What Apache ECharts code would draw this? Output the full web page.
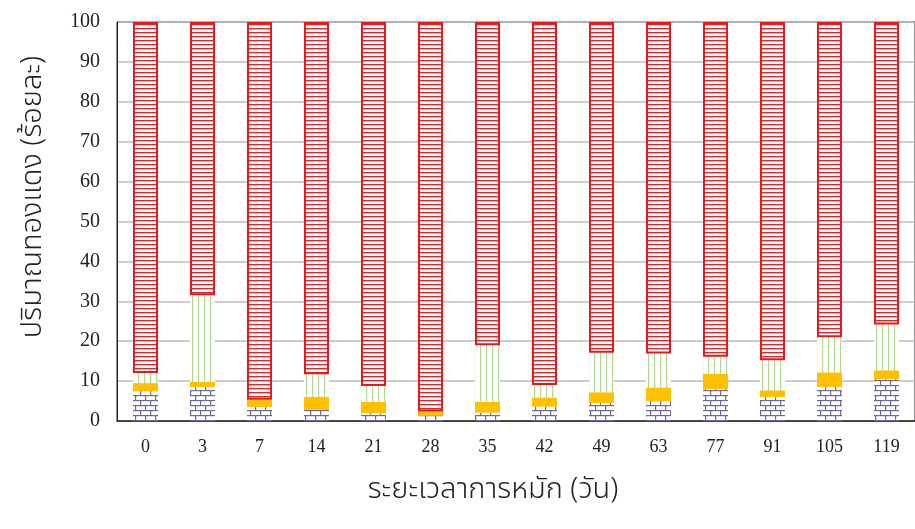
<!DOCTYPE html>
<html>
<head>
<meta charset="utf-8">
<script src="https://cdn.jsdelivr.net/npm/echarts@6/dist/echarts.min.js"></script>
<style>
html,body{margin:0;padding:0;background:#fff;}
#chart{width:915px;height:529px;}
</style>
</head>
<body>
<div id="chart"></div>
<script>
const categories = ['0','3','7','14','21','28','35','42','49','63','77','91','105','119'];
const brickValues  = [7.5, 8.5, 3.5, 2.8, 1.9, 1.4, 2.1, 3.6, 4.5, 5.0, 8.0, 6.0, 8.5, 10.5];
const yellowValues = [2.0, 1.3, 1.8, 3.3, 2.9, 1.0, 2.7, 2.3, 2.7, 3.4, 3.8, 1.7, 3.7, 2.2];
const greenValues  = [2.5, 21.7, 0, 5.6, 4.0, 0, 14.2, 3.1, 9.9, 8.5, 4.3, 7.5, 8.8, 11.5];
const redValues    = [88.0, 68.5, 94.7, 88.3, 91.2, 97.6, 81.0, 91.0, 82.9, 83.1, 83.9, 84.8, 79.0, 75.8];
const yTickLabels = ['0','10','20','30','40','50','60','70','80','90','100'];
const xTitle = 'ระยะเวลาการหมัก (วัน)';
const yTitle = 'ปริมาณทองแดง (ร้อยละ)';

function makePattern(w, h, draw) {
  const c = document.createElement('canvas');
  c.width = w; c.height = h;
  const ctx = c.getContext('2d');
  ctx.fillStyle = '#ffffff';
  ctx.fillRect(0, 0, w, h);
  draw(ctx);
  return { image: c, repeat: 'repeat' };
}
const redPattern = makePattern(8, 4, ctx => {
  ctx.fillStyle = '#d92b2f';
  ctx.fillRect(0, 0, 8, 1.4);
});
const greenPattern = makePattern(6, 4, ctx => {
  ctx.fillStyle = '#b3d794';
  ctx.fillRect(0, 0, 1.2, 4);
});
const brickPattern = makePattern(20, 10, ctx => {
  ctx.fillStyle = '#6a6a9c';
  ctx.fillRect(0, 0, 20, 1.2);
  ctx.fillRect(0, 5, 20, 1.2);
  ctx.fillRect(0, 0, 1.2, 5);
  ctx.fillRect(10, 0, 1.2, 5);
  ctx.fillRect(5, 5, 1.2, 5);
  ctx.fillRect(15, 5, 1.2, 5);
});

const chart = echarts.init(document.getElementById('chart'), null, {renderer: 'canvas'});
const barW = 25;
const titleFont = '300 29px "Noto Sans Thai", "Noto Sans", sans-serif';
chart.setOption({
  animation: false,
  backgroundColor: '#ffffff',
  grid: {left: 117, top: 22, bottom: 108, right: -10, show: true, borderColor: '#222', borderWidth: 1, backgroundColor: '#fff'},
  graphic: [
    {type: 'text', x: 493, y: 492, style: {text: xTitle, font: titleFont, fill: '#222', align: 'center', verticalAlign: 'middle'}},
    {type: 'text', x: 35, y: 197, rotation: Math.PI / 2, style: {text: yTitle, font: titleFont, fill: '#222', align: 'center', verticalAlign: 'middle'}}
  ],
  xAxis: {
    type: 'category',
    data: categories,
    axisTick: {show: false},
    axisLine: {lineStyle: {color: '#222', width: 1.5}},
    axisLabel: {color: '#222', fontFamily: '"Liberation Serif", "Times New Roman", serif', fontSize: 18, margin: 17}
  },
  yAxis: {
    type: 'value',
    min: 0, max: 100, interval: 10,
    axisLine: {show: true, lineStyle: {color: '#222', width: 1}},
    axisTick: {show: false},
    splitLine: {lineStyle: {color: '#bdbdbd', width: 1.5}},
    axisLabel: {color: '#222', fontFamily: '"Liberation Serif", "Times New Roman", serif', fontSize: 20, margin: 17,
      formatter: v => yTickLabels[Math.round(v / 10)]}
  },
  series: [
    {type: 'bar', stack: 'a', data: brickValues, barWidth: barW, itemStyle: {color: brickPattern}},
    {type: 'bar', stack: 'a', data: yellowValues, barWidth: barW, itemStyle: {color: '#ffc000'}},
    {type: 'bar', stack: 'a', data: greenValues, barWidth: barW, itemStyle: {color: greenPattern}},
    {type: 'bar', stack: 'a', data: redValues, barWidth: barW, itemStyle: {color: redPattern, borderColor: '#e3191f', borderWidth: 2}}
  ]
});
</script>
</body>
</html>
